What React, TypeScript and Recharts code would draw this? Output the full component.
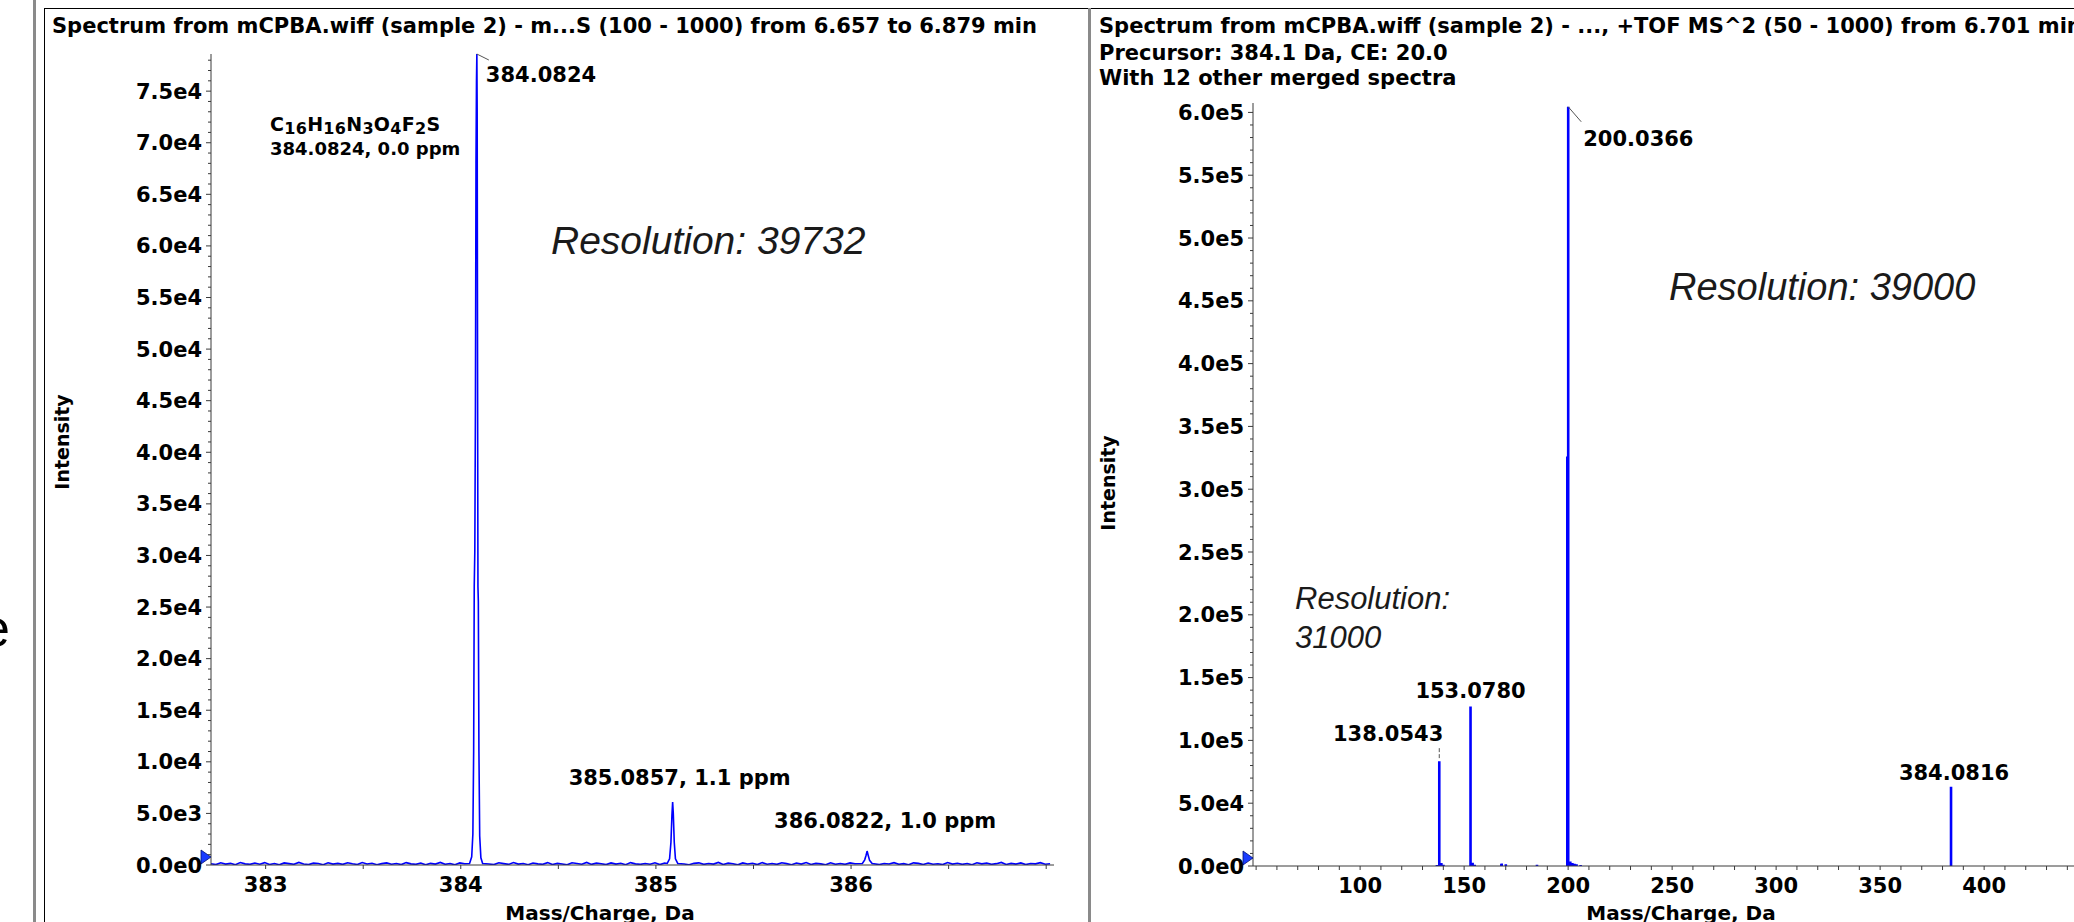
import React from "react";
import { LineChart, Line, XAxis, YAxis, ReferenceDot } from "recharts";

// ---- left panel: TOF MS profile of the [M+H]+ isotope cluster ----
const ms1PeakMz = [
  384.045, 384.056, 384.062, 384.066, 384.069, 384.072, 384.075, 384.078, 384.0805,
  384.0824, 384.084, 384.086, 384.088, 384.09, 384.093, 384.097, 384.103, 384.112,
  385.058, 385.07, 385.077, 385.082, 385.0857, 385.089, 385.094, 385.1, 385.112,
  386.058, 386.07, 386.077, 386.0822, 386.087, 386.095, 386.108,
];
const ms1PeakIntensity = [
  150, 800, 3000, 11000, 27000, 30500, 44000, 68000, 76000,
  78600, 73000, 48000, 27000, 25500, 11000, 2800, 700, 150,
  150, 600, 2200, 4800, 6100, 5000, 2200, 600, 150,
  150, 500, 950, 1350, 1000, 450, 150,
];
// baseline noise, one reading every 0.025 Da starting at 382.72
const ms1NoiseStart = 382.72;
const ms1NoiseStep = 0.025;
const ms1Noise = [
  120, 40, 210, 90, 160, 30, 240, 110, 60, 190,
  80, 230, 50, 150, 20, 200, 130, 70, 250, 100,
  40, 180, 140, 30, 220, 90, 160, 60, 210, 120,
  50, 240, 100, 170, 30, 130, 200, 80, 150, 40,
  230, 110, 60, 190, 20, 160, 90, 250, 70, 140,
  30, 200, 120, 80, 220, 50, 170, 100, 40, 210,
  130, 60, 240, 90, 150, 30, 190, 110, 70, 230,
  50, 160, 100, 20, 210, 140, 80, 250, 60, 180,
  120, 40, 200, 90, 170, 30, 230, 110, 60, 150,
  80, 220, 40, 190, 130, 70, 240, 100, 30, 160,
  210, 60, 140, 90, 250, 50, 180, 120, 20, 200,
  100, 170, 40, 230, 80, 150, 60, 210, 130, 30,
  190, 90, 240, 50, 160, 110, 20, 220, 70, 140,
  60, 200, 120, 30, 180, 90, 250, 40, 150, 100,
  230, 70, 130, 20, 210, 160, 50, 190, 80, 120,
  40, 240, 90, 170, 60, 140, 30, 220, 110, 180,
  70, 130, 250, 50, 160, 90, 200, 40, 150, 110,
  230, 80, 120,
];
const ms1XTicks = [383, 383.5, 384, 384.5, 385, 385.5, 386, 386.5, 387];
const ms1XLabels = ["383", "384", "385", "386"];
const ms1YLabels = [0, 5000, 10000, 15000, 20000, 25000, 30000, 35000, 40000, 45000, 50000, 55000, 60000, 65000, 70000, 75000];
const ms1LabelMz = [384.0824, 385.0857, 386.0822];
const ms1LabelIntensity = [78600, 6100, 1350];
const ms1LabelText = ["384.0824", "385.0857, 1.1 ppm", "386.0822, 1.0 ppm"];

// ---- right panel: MS/MS centroid sticks ----
const ms2Mz = [136.92, 138.0543, 139.058, 140.06, 153.078, 154.081, 155.09, 167.9, 168.06, 170.04, 185.03, 199.6, 200.0366, 201.04, 202.04, 203.05, 204.04, 206.0, 384.0816];
const ms2Intensity = [700, 83500, 2400, 900, 127000, 2600, 900, 1600, 1900, 1300, 900, 326000, 604500, 3600, 2400, 1700, 1300, 800, 63000];
const ms2XTicks = [50, 60, 70, 80, 90, 100, 110, 120, 130, 140, 150, 160, 170, 180, 190, 200, 210, 220, 230, 240, 250, 260, 270, 280, 290, 300, 310, 320, 330, 340, 350, 360, 370, 380, 390, 400, 410, 420, 430, 440];
const ms2XLabels = ["100", "150", "200", "250", "300", "350", "400"];
const ms2YLabels = [0, 50000, 100000, 150000, 200000, 250000, 300000, 350000, 400000, 450000, 500000, 550000, 600000];
const ms2LabelMz = [138.0543, 153.078, 200.0366, 384.0816];
const ms2LabelIntensity = [83500, 127000, 604500, 63000];
const ms2LabelText = ["138.0543", "153.0780", "200.0366", "384.0816"];

const BLUE = "#0000ff";
const AXIS = "#3a3a3a";
const LEADER = "#555";
const BOLD: React.CSSProperties = { fontFamily: "'DejaVu Sans', Verdana, sans-serif", fontWeight: 700, fill: "#000" };
const TAG: React.CSSProperties = { ...BOLD, fontSize: 21 };
const NOTE: React.CSSProperties = { fontFamily: "'Liberation Sans', Arial, sans-serif", fontStyle: "italic", fill: "#1a1a1a" };

const ms1Data = [
  ...ms1Noise
    .map((v, i) => ({ mz: +(ms1NoiseStart + i * ms1NoiseStep).toFixed(3), intensity: v }))
    .filter((p) => !ms1LabelMz.some((m) => Math.abs(p.mz - m) < 0.04)),
  ...ms1PeakMz.map((mz, i) => ({ mz, intensity: ms1PeakIntensity[i] })),
].sort((a, b) => a.mz - b.mz);

const ms2Data = ms2Mz.flatMap((mz, i) => [
  { mz, intensity: 0 },
  { mz, intensity: ms2Intensity[i] },
  { mz, intensity: null },
]);

const minorTicks = (step: number, max: number) =>
  Array.from({ length: Math.floor(max / step) + 1 }, (_, i) => i * step);

const sci = (v: number) => {
  if (v === 0) return "0.0e0";
  const e = Math.floor(Math.log10(v) + 1e-9);
  return `${(v / Math.pow(10, e)).toFixed(1)}e${e}`;
};

function YTick(props: any) {
  const { x, y, payload, labels } = props;
  const v = payload.value;
  const major = labels.includes(v);
  return (
    <g>
      <line x1={x - (major ? 5 : 3)} x2={x} y1={y} y2={y} stroke={AXIS} />
      {major && (
        <text x={x - 9} y={y} dy="0.36em" textAnchor="end" style={TAG}>
          {sci(v)}
        </text>
      )}
    </g>
  );
}

function XTick(props: any) {
  const { x, y, payload, labels } = props;
  const label = labels.find((l: string) => Number(l) === payload.value);
  return (
    <g>
      <line x1={x} x2={x} y1={y} y2={y + 4} stroke={AXIS} />
      {label && (
        <text x={x} y={y + 12} dy="0.73em" textAnchor="middle" style={TAG}>
          {label}
        </text>
      )}
    </g>
  );
}

const Threshold = (p: any) => (
  <polygon
    points={`${p.cx - 10},${p.cy - 15} ${p.cx},${p.cy - 8} ${p.cx - 10},${p.cy - 1}`}
    fill="#1a3cff"
    stroke="#001070"
    strokeWidth={0.8}
  />
);

const formula = [["C", "16"], ["H", "16"], ["N", "3"], ["O", "4"], ["F", "2"], ["S", ""]];

export default function App() {
  return (
    <div style={{ position: "fixed", left: 0, top: 0, width: 2074, height: 922, overflow: "hidden", background: "#fff" }}>
      <div style={{ position: "absolute", left: 0, top: 0 }}>
        <LineChart width={1088} height={922} data={ms1Data} margin={{ top: 54, right: 34, bottom: 27, left: 110 }}>
          <XAxis
            dataKey="mz"
            type="number"
            domain={[382.72, 387.04]}
            allowDataOverflow
            ticks={ms1XTicks}
            interval={0}
            tickSize={0}
            tickMargin={0}
            tickLine={false}
            axisLine={{ stroke: AXIS }}
            height={30}
            tick={(p: any) => <XTick {...p} labels={ms1XLabels} />}
          />
          <YAxis
            type="number"
            domain={[0, 78600]}
            allowDataOverflow
            ticks={minorTicks(1000, 78600)}
            interval={0}
            tickSize={0}
            tickMargin={0}
            tickLine={false}
            axisLine={{ stroke: AXIS }}
            width={101}
            tick={(p: any) => <YTick {...p} labels={ms1YLabels} />}
          />
          <Line type="linear" dataKey="intensity" stroke={BLUE} strokeWidth={1.6} dot={false} activeDot={false} isAnimationActive={false} />
          <ReferenceDot x={382.72} y={0} r={3} ifOverflow="visible" shape={Threshold} />
          <ReferenceDot
            x={ms1LabelMz[0]}
            y={ms1LabelIntensity[0]}
            r={3}
            ifOverflow="visible"
            shape={(p: any) => (
              <g>
                <line x1={p.cx} y1={p.cy} x2={p.cx + 12} y2={p.cy + 6} stroke={LEADER} />
                <text x={p.cx + 9} y={p.cy + 28} style={TAG}>{ms1LabelText[0]}</text>
              </g>
            )}
          />
          <ReferenceDot
            x={ms1LabelMz[1]}
            y={ms1LabelIntensity[1]}
            r={3}
            ifOverflow="visible"
            shape={(p: any) => (
              <text x={p.cx + 7} y={p.cy - 17} textAnchor="middle" style={TAG}>{ms1LabelText[1]}</text>
            )}
          />
          <ReferenceDot
            x={ms1LabelMz[2]}
            y={ms1LabelIntensity[2]}
            r={3}
            ifOverflow="visible"
            shape={(p: any) => (
              <text x={p.cx + 18} y={p.cy - 23} textAnchor="middle" style={TAG}>{ms1LabelText[2]}</text>
            )}
          />
        </LineChart>
      </div>

      <div style={{ position: "absolute", left: 1090, top: 0 }}>
        <LineChart width={984} height={922} data={ms2Data} margin={{ top: 103, right: 0, bottom: 26, left: 62 }}>
          <XAxis
            dataKey="mz"
            type="number"
            domain={[48.5, 443.2]}
            allowDataOverflow
            ticks={ms2XTicks}
            interval={0}
            tickSize={0}
            tickMargin={0}
            tickLine={false}
            axisLine={{ stroke: AXIS }}
            height={30}
            tick={(p: any) => <XTick {...p} labels={ms2XLabels} />}
          />
          <YAxis
            type="number"
            domain={[0, 607500]}
            allowDataOverflow
            ticks={minorTicks(10000, 607500)}
            interval={0}
            tickSize={0}
            tickMargin={0}
            tickLine={false}
            axisLine={{ stroke: AXIS }}
            width={101}
            tick={(p: any) => <YTick {...p} labels={ms2YLabels} />}
          />
          <Line type="linear" dataKey="intensity" stroke={BLUE} strokeWidth={2.6} dot={false} activeDot={false} connectNulls={false} isAnimationActive={false} />
          <ReferenceDot x={48.5} y={0} r={3} ifOverflow="visible" shape={Threshold} />
          <ReferenceDot
            x={ms2LabelMz[0]}
            y={ms2LabelIntensity[0]}
            r={3}
            ifOverflow="visible"
            shape={(p: any) => (
              <g>
                <line x1={p.cx} y1={p.cy - 13} x2={p.cx} y2={p.cy - 3} stroke={LEADER} strokeDasharray="4 2" />
                <text x={p.cx + 4} y={p.cy - 20} textAnchor="end" style={TAG}>{ms2LabelText[0]}</text>
              </g>
            )}
          />
          <ReferenceDot
            x={ms2LabelMz[1]}
            y={ms2LabelIntensity[1]}
            r={3}
            ifOverflow="visible"
            shape={(p: any) => (
              <text x={p.cx} y={p.cy - 8} textAnchor="middle" style={TAG}>{ms2LabelText[1]}</text>
            )}
          />
          <ReferenceDot
            x={ms2LabelMz[2]}
            y={ms2LabelIntensity[2]}
            r={3}
            ifOverflow="visible"
            shape={(p: any) => (
              <g>
                <line x1={p.cx} y1={p.cy} x2={p.cx + 13} y2={p.cy + 15} stroke={LEADER} />
                <text x={p.cx + 15} y={p.cy + 39} style={TAG}>{ms2LabelText[2]}</text>
              </g>
            )}
          />
          <ReferenceDot
            x={ms2LabelMz[3]}
            y={ms2LabelIntensity[3]}
            r={3}
            ifOverflow="visible"
            shape={(p: any) => (
              <text x={p.cx + 3} y={p.cy - 7} textAnchor="middle" style={TAG}>{ms2LabelText[3]}</text>
            )}
          />
        </LineChart>
      </div>

      {/* slide frame, panel titles and annotations */}
      <svg width={2074} height={922} style={{ position: "absolute", left: 0, top: 0, pointerEvents: "none" }}>
        <text x={10} y={646} textAnchor="end" style={{ fontFamily: "'Liberation Sans', Arial, sans-serif", fontSize: 52, fill: "#000" }}>e</text>
        <rect x={33} y={0} width={3} height={922} fill="#8a8a8a" />
        <line x1={44.5} y1={922} x2={44.5} y2={8.5} stroke="#000" />
        <line x1={44} y1={8.5} x2={2074} y2={8.5} stroke="#000" />
        <rect x={1088} y={8} width={3} height={914} fill="#8a8a8a" />

        <text x={52} y={33} style={{ ...BOLD, fontSize: 21 }}>
          Spectrum from mCPBA.wiff (sample 2) - m...S (100 - 1000) from 6.657 to 6.879 min
        </text>
        <text x={1099} y={33} style={{ ...BOLD, fontSize: 21 }}>
          Spectrum from mCPBA.wiff (sample 2) - ..., +TOF MS^2 (50 - 1000) from 6.701 min
        </text>
        <text x={1099} y={59.5} style={{ ...BOLD, fontSize: 21 }}>Precursor: 384.1 Da, CE: 20.0</text>
        <text x={1099} y={85} style={{ ...BOLD, fontSize: 21 }}>With 12 other merged spectra</text>

        <text transform="translate(69,442) rotate(-90)" textAnchor="middle" style={{ ...BOLD, fontSize: 19 }}>Intensity</text>
        <text transform="translate(1115,483) rotate(-90)" textAnchor="middle" style={{ ...BOLD, fontSize: 19 }}>Intensity</text>
        <text x={600} y={920} textAnchor="middle" style={{ ...BOLD, fontSize: 20 }}>Mass/Charge, Da</text>
        <text x={1681} y={920} textAnchor="middle" style={{ ...BOLD, fontSize: 20 }}>Mass/Charge, Da</text>

        <text x={270} y={131} style={{ ...BOLD, fontSize: 19, letterSpacing: 0.3 }}>
          {formula.map(([el, n], i) => (
            <React.Fragment key={i}>
              <tspan dy={i === 0 ? 0 : -3}>{el}</tspan>
              {n && <tspan fontSize={16} dy={3}>{n}</tspan>}
            </React.Fragment>
          ))}
        </text>
        <text x={270} y={155} style={{ ...BOLD, fontSize: 18 }}>384.0824, 0.0 ppm</text>

        <text x={551} y={254} style={{ ...NOTE, fontSize: 39 }}>Resolution: 39732</text>
        <text x={1669} y={300} style={{ ...NOTE, fontSize: 38 }}>Resolution: 39000</text>
        <text x={1295} y={609} style={{ ...NOTE, fontSize: 31 }}>Resolution:</text>
        <text x={1295} y={648} style={{ ...NOTE, fontSize: 31 }}>31000</text>
      </svg>
    </div>
  );
}
